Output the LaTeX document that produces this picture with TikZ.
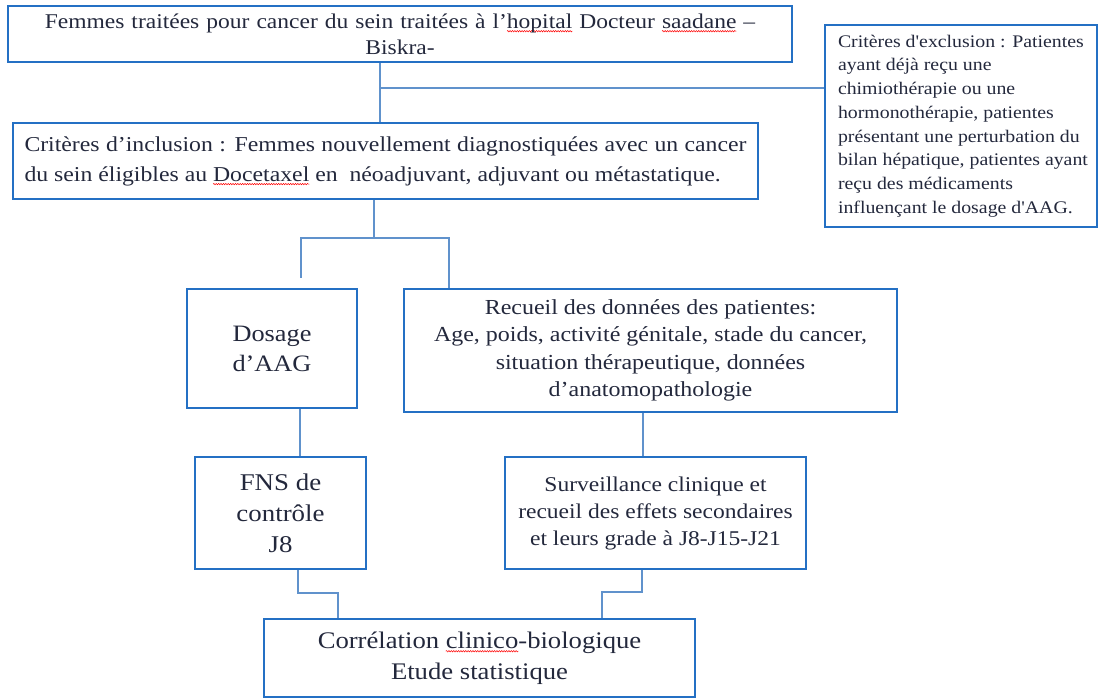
\documentclass[tikz,border=0pt]{standalone}
\usepackage{fontspec}
\setmainfont{Liberation Serif}[FakeStretch=1.12]
\newfontfamily\exclfont{Liberation Serif}[FakeStretch=1.12]
\usepackage{tikz}
\usetikzlibrary{positioning}
\usetikzlibrary{decorations.pathmorphing}

\newdimen\fautelg
\newcommand\faute[1]{\setbox0\hbox{#1}\fautelg=\wd0\rlap{\tikz[overlay,baseline=0pt]
  \draw[red, line width=0.5pt, decorate, decoration={snake, amplitude=0.7pt, segment length=2.4pt}]
    (0pt,-3pt) -- (\fautelg,-3pt);}\box0}

\begin{document}
\begin{tikzpicture}[x=1pt,y=-1pt]
\definecolor{bleucadre}{RGB}{36,112,196};
\definecolor{bleulien}{RGB}{96,146,204};
\definecolor{encre}{RGB}{35,40,60};
\tikzstyle{cadre}=[draw=bleucadre, line width=2.6pt, align=center,
                   text=encre, inner sep=0pt];
\tikzstyle{lien}=[draw=bleulien, line width=1.3pt];
\useasboundingbox (0,0) rectangle (1101,699);

% boites
\node [cadre, minimum width=784, minimum height=56, text width=770,
       font=\fontsize{21}{26}\selectfont] (titre) at (400,34)
      {Femmes traitées pour cancer du sein traitées à l’\faute{hopital}\ Docteur \faute{saadane}\ –\\ Biskra-};
\node [cadre, minimum width=272, minimum height=202,
       font=\exclfont\fontsize{17.7}{23.7}\selectfont] (excl) at (961,126)
      {\hspace*{8pt}\parbox{254pt}{\raggedright Critères d'exclusion : Patientes\\ ayant déjà reçu une\\
       chimiothérapie ou une\\ hormonothérapie, patientes\\ présentant une perturbation du\\
       bilan hépatique, patientes ayant\\ reçu des médicaments\\ influençant le dosage d'AAG.}};
\node [cadre, align=justify, minimum width=745, minimum height=76, text width=722,
       font=\fontsize{21.2}{30}\selectfont] (incl) at (385.5,161)
      {Critères d’inclusion : Femmes nouvellement diagnostiquées avec un cancer\linebreak
       du sein éligibles au \faute{Docetaxel}\ en\ \ néoadjuvant, adjuvant ou métastatique.};
\node [cadre, minimum width=170, minimum height=119,
       font=\fontsize{23.5}{30}\selectfont] (dosage) at (272,348.5) {Dosage\\ d’AAG};
\node [cadre, minimum width=493, minimum height=123,
       font=\fontsize{21.4}{27.5}\selectfont] (recueil) at (650.5,350.5)
      {Recueil des données des patientes:\\ Age, poids, activité génitale, stade du cancer,\\
       situation thérapeutique, données\\ d’anatomopathologie};
\node [cadre, minimum width=171, minimum height=112,
       font=\fontsize{24}{31}\selectfont] (fns) at (280.5,513) {FNS de\\ contrôle\\ J8};
\node [cadre, minimum width=301, minimum height=112,
       font=\fontsize{21}{27}\selectfont] (surv) at (655.5,513)
      {Surveillance clinique et\\ recueil des effets secondaires\\ et leurs grade à J8-J15-J21};
\node [cadre, minimum width=431, minimum height=78,
       font=\fontsize{23.8}{31}\selectfont] (correl) at (479.5,658)
      {Corrélation \faute{clinico}-biologique\\ Etude statistique};

% liens
\coordinate (b1) at (380,88);
\draw [lien] (titre.south -| b1) -- (incl.north -| b1);
\draw [lien] (b1) -- (b1 -| excl.west);
\coordinate (b2) at (374,238);
\coordinate (b2g) at (301,238);
\coordinate (b2d) at (449,238);
\draw [lien] (incl.south -| b2) -- (b2);
\draw [lien] (dosage.north -| b2g) ++(0,-10) -- (b2g) -- (b2d) -- (recueil.north -| b2d);
\coordinate (xg) at (300,0);
\coordinate (xd) at (643,0);
\coordinate (xf) at (298,0);
\coordinate (xs) at (642,0);
\draw [lien] (dosage.south -| xg) -- (fns.north -| xg);
\draw [lien] (recueil.south -| xd) -- (surv.north -| xd);
\coordinate (c1) at (338,593);
\coordinate (c2) at (602,592);
\draw [lien] (fns.south -| xf) |- (c1) -- (correl.north -| c1);
\draw [lien] (surv.south -| xs) |- (c2) -- (correl.north -| c2);

\end{tikzpicture}
\end{document}
